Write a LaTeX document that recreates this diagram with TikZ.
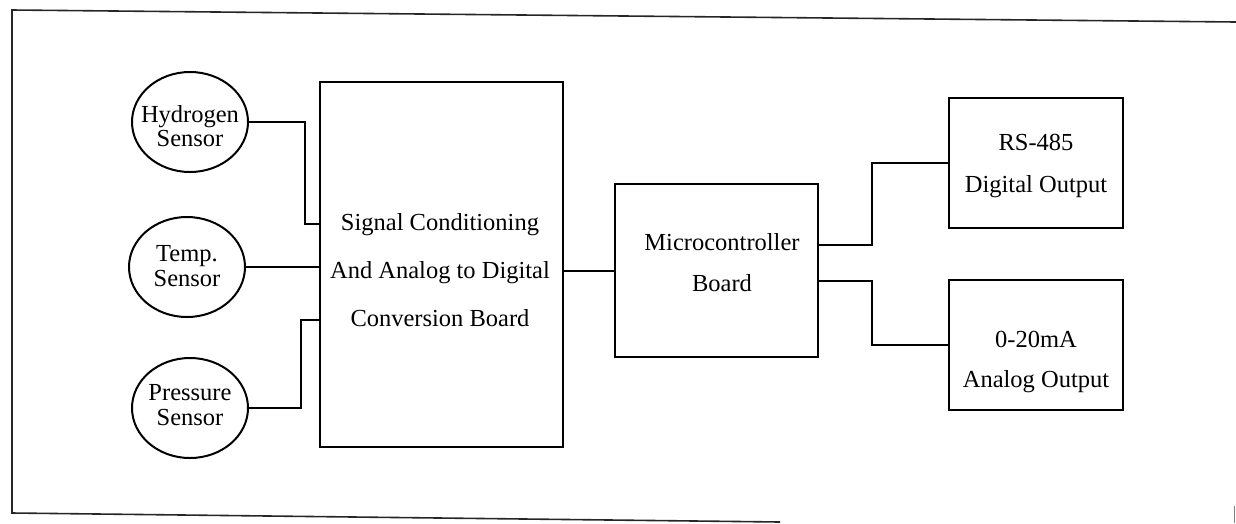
\documentclass[tikz,border=0pt]{standalone}
\usepackage{fontspec}
\setmainfont{Liberation Serif}
\usetikzlibrary{shapes.geometric,calc}
\begin{document}
\begin{tikzpicture}[x=1pt,y=-1pt,
  sensorshape/.style={draw, ellipse, line width=2pt, minimum width=116pt, minimum height=100pt, inner sep=0pt},
  blockbox/.style={draw, rectangle, line width=2pt, inner sep=0pt},
  lbl/.style={align=center, inner sep=0pt, font=\fontsize{24.5}{24.5}\selectfont},
  wire/.style={line width=2pt},
  frameline/.style={line width=1.6pt, black!85}
]
\useasboundingbox (0,0) rectangle (1236,523);

% outer frame (partial, as scanned)
\coordinate (ftl) at (12,10);
\coordinate (fbl) at (12,513);
\coordinate (ftr) at (1236,22);
\coordinate (fbr) at (780,522);
\draw[frameline] (ftr) -- (ftl) -- (fbl) -- (fbr);
\coordinate (rm1) at (1234,506);
\coordinate (rm2) at (1234,523);
\draw[line width=1pt, gray] (rm1) -- (rm2);

% sensors
\node[sensorshape] (hyd) at (190,122) {};
\node[sensorshape] (temp) at (187,267) {};
\node[sensorshape] (pres) at (190,408) {};
\node[lbl] (hydt) at (190,126) {Hydrogen\\Sensor};
\node[lbl] (tempt) at (187,266) {Temp.\\Sensor};
\node[lbl] (prest) at (190,405) {Pressure\\Sensor};

% blocks
\node[blockbox, minimum width=243pt, minimum height=365pt] (sc) at (441.5,264.5) {};
\node[blockbox, minimum width=203pt, minimum height=173pt] (mc) at (716.5,270.5) {};
\node[blockbox, minimum width=174pt, minimum height=130pt] (rs) at (1036,163) {};
\node[blockbox, minimum width=174pt, minimum height=130pt] (ao) at (1036,345) {};

\node[lbl, font=\fontsize{24.5}{48}\selectfont] (sct) at (440,270) {Signal Conditioning\\And Analog to Digital\\Conversion Board};
\node[lbl, font=\fontsize{24.5}{41}\selectfont] (mct) at (722,262.5) {Microcontroller\\Board};
\node[lbl, font=\fontsize{24.5}{42}\selectfont] (rst) at (1036,166) {RS-485\\Digital Output};
\node[lbl, font=\fontsize{24.5}{40}\selectfont] (aot) at (1036,362) {0-20mA\\Analog Output};

% connectors
\draw[wire] (hyd.east) -- ++(56,0) |- ([yshift=40.5pt]sc.west);
\draw[wire] (temp.east) -- (temp.east -| sc.west);
\draw[wire] (pres.east) -- ++(52,0) |- ([yshift=-55.5pt]sc.west);
\draw[wire] (sc.east |- mc.west) -- (mc.west);
\draw[wire] ([yshift=25.5pt]mc.east) -- ++(53,0) |- (rs.west);
\draw[wire] ([yshift=-10.5pt]mc.east) -- ++(53,0) |- (ao.west);
\end{tikzpicture}
\end{document}
